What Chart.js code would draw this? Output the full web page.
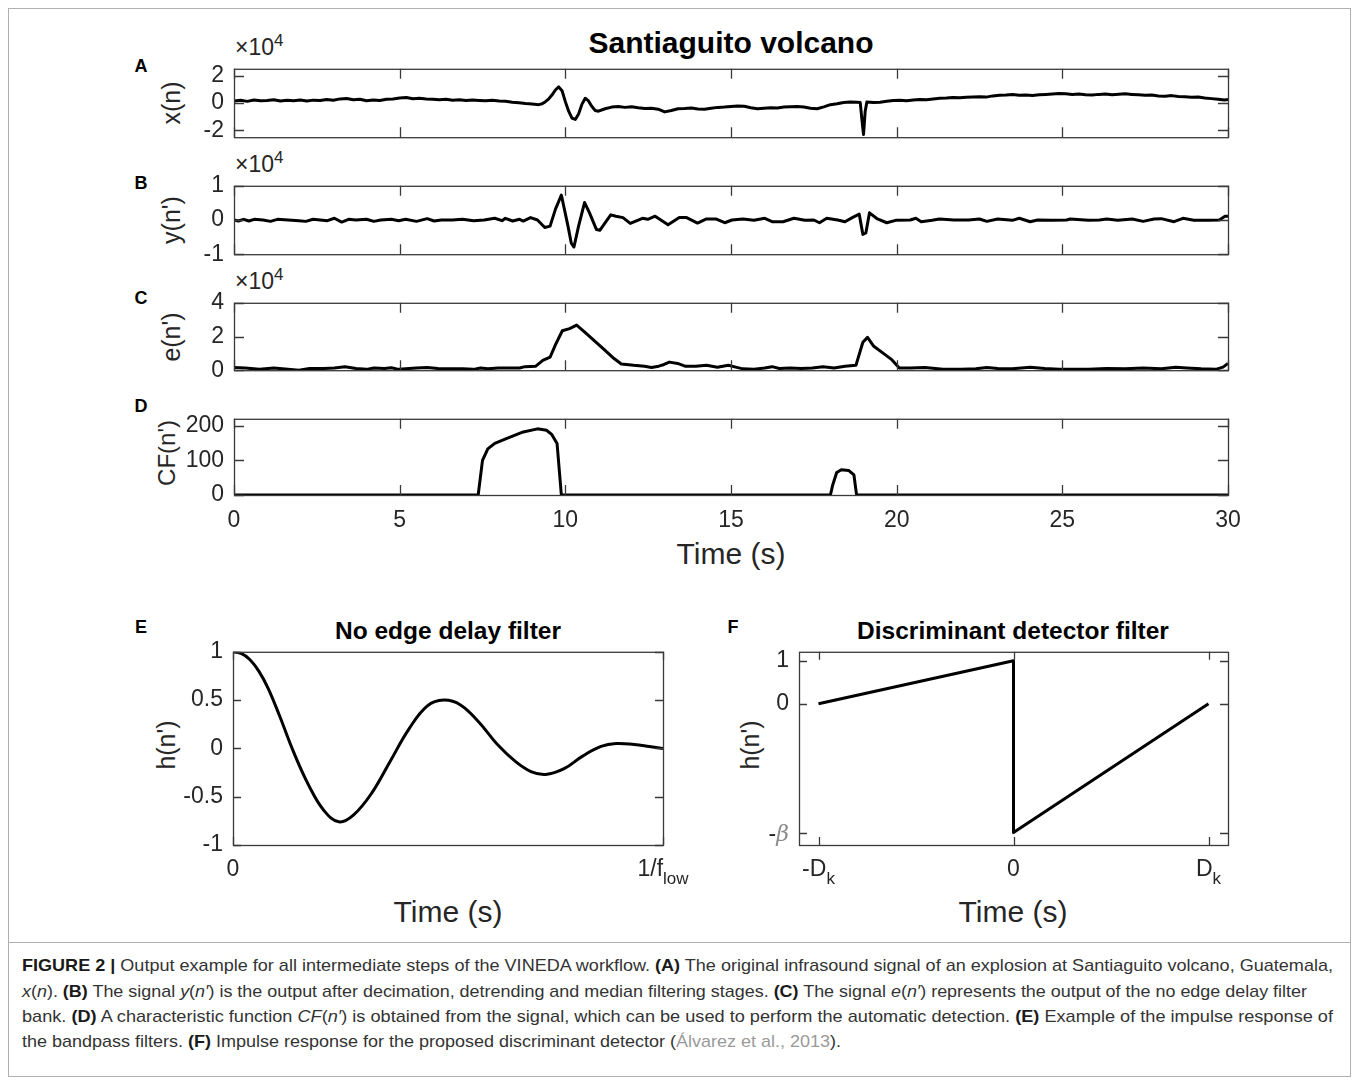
<!DOCTYPE html>
<html>
<head>
<meta charset="utf-8">
<script src="https://cdn.jsdelivr.net/npm/chart.js@4.4.1/dist/chart.umd.min.js"></script>
<style>
html,body{margin:0;padding:0;background:#fff;}
body{position:relative;width:1358px;height:1083px;overflow:hidden;font-family:"Liberation Sans",Arial,Helvetica,sans-serif;color:#262626;}
canvas{position:absolute;}
.t{position:absolute;white-space:nowrap;transform:translate(-50%,-50%);line-height:1;}
.bold{font-weight:bold;color:#000;}
.yl{position:absolute;white-space:nowrap;transform:translate(-50%,-50%) rotate(-90deg);font-size:25px;color:#262626;line-height:1;}
.sc{position:absolute;white-space:nowrap;font-size:23px;color:#262626;line-height:1;transform:translateY(-50%);}
.sc sup{font-size:17px;position:relative;top:-4px;vertical-align:top;}
.cap{position:absolute;left:22px;white-space:nowrap;font-family:"Liberation Sans Narrow","Liberation Sans",Arial,sans-serif;font-size:17px;line-height:20px;color:#333;transform-origin:0 50%;}
.cap b{color:#1a1a1a;}
</style>
</head>
<body>
<div style="position:absolute;left:8px;top:8px;width:1341px;height:1067px;border:1px solid #b0b0b0;"></div>
<div style="position:absolute;left:8px;top:942px;width:1342px;height:1px;background:#b0b0b0;"></div>

<div class="t bold" style="left:731px;top:43px;font-size:30px;">Santiaguito volcano</div>
<div class="t bold" style="left:448px;top:631px;font-size:24.5px;">No edge delay filter</div>
<div class="t bold" style="left:1013px;top:631px;font-size:24.5px;">Discriminant detector filter</div>

<div class="t bold" style="left:141px;top:66px;font-size:18px;">A</div>
<div class="t bold" style="left:141px;top:183px;font-size:18px;">B</div>
<div class="t bold" style="left:141px;top:298px;font-size:18px;">C</div>
<div class="t bold" style="left:141px;top:406px;font-size:18px;">D</div>
<div class="t bold" style="left:141px;top:627px;font-size:18px;">E</div>
<div class="t bold" style="left:733px;top:627px;font-size:18px;">F</div>

<div class="sc" style="left:235px;top:47px;">×10<sup>4</sup></div>
<div class="sc" style="left:235px;top:164px;">×10<sup>4</sup></div>
<div class="sc" style="left:235px;top:281px;">×10<sup>4</sup></div>

<div class="yl" style="left:171px;top:103px;">x(n)</div>
<div class="yl" style="left:171px;top:220px;">y(n')</div>
<div class="yl" style="left:171px;top:337px;">e(n')</div>
<div class="yl" style="left:167px;top:453px;font-size:24px;">CF(n')</div>
<div class="yl" style="left:166px;top:745px;">h(n')</div>
<div class="yl" style="left:750px;top:745px;">h(n')</div>

<div class="t" style="left:731px;top:554px;font-size:30px;">Time (s)</div>
<div class="t" style="left:448px;top:912px;font-size:30px;">Time (s)</div>
<div class="t" style="left:1013px;top:912px;font-size:30px;">Time (s)</div>

<div class="cap" data-w="1311" style="top:956px;"><b>FIGURE 2 |</b> Output example for all intermediate steps of the VINEDA workflow. <b>(A)</b> The original infrasound signal of an explosion at Santiaguito volcano, Guatemala,</div>
<div class="cap" data-w="1285" style="top:982px;"><i>x</i>(<i>n</i>). <b>(B)</b> The signal <i>y</i>(<i>n′</i>) is the output after decimation, detrending and median filtering stages. <b>(C)</b> The signal <i>e</i>(<i>n′</i>) represents the output of the no edge delay filter</div>
<div class="cap" data-w="1311" style="top:1007px;">bank. <b>(D)</b> A characteristic function <i>CF</i>(<i>n′</i>) is obtained from the signal, which can be used to perform the automatic detection. <b>(E)</b> Example of the impulse response of</div>
<div class="cap" data-w="819" style="top:1032px;">the bandpass filters. <b>(F)</b> Impulse response for the proposed discriminant detector (<span style="color:#9a9a9a">Álvarez et al., 2013</span>).</div>

<script>
// ---------------- DATA ----------------
// Time axis ticks (s) for panels A-D
const timeTicks = [0, 5, 10, 15, 20, 25, 30];

// Panel A: x(n), units of 1e4
const tA = [0,0.2,0.4,0.6,0.8,1.0,1.2,1.4,1.6,1.8,
  2.0,2.2,2.4,2.6,2.8,3.0,3.2,3.4,3.6,3.8,
  4.0,4.2,4.4,4.6,4.8,5.0,5.2,5.4,5.6,5.8,
  6.0,6.2,6.4,6.6,6.8,7.0,7.2,7.4,7.6,7.8,
  8.0,8.2,8.4,8.6,8.8,9.0,9.2,9.3,9.4,9.5,
  9.6,9.7,9.8,9.9,10.0,10.1,10.2,10.3,10.4,10.5,
  10.6,10.7,10.8,10.9,11.0,11.2,11.4,11.6,11.8,12.0,
  12.2,12.4,12.6,12.8,13.0,13.2,13.4,13.6,13.8,14.0,
  14.2,14.4,14.6,14.8,15.0,15.2,15.4,15.6,15.8,16.0,
  16.2,16.4,16.6,16.8,17.0,17.2,17.4,17.6,17.8,18.0,
  18.2,18.4,18.6,18.8,18.9,18.95,19.0,19.05,19.1,19.3,
  19.5,19.7,19.9,20.1,20.3,20.5,20.7,20.9,21.1,21.3,
  21.5,21.7,21.9,22.1,22.3,22.5,22.7,22.9,23.1,23.3,
  23.5,23.7,23.9,24.1,24.3,24.5,24.7,24.9,25.1,25.3,
  25.5,25.7,25.9,26.1,26.3,26.5,26.7,26.9,27.1,27.3,
  27.5,27.7,27.9,28.1,28.3,28.5,28.7,28.9,29.1,29.3,
  29.5,29.7,29.9,30.0];
const xA = [0.14,0.20,0.12,0.22,0.16,0.18,0.24,0.14,0.20,0.17,
  0.22,0.15,0.21,0.19,0.26,0.20,0.30,0.33,0.24,0.28,
  0.16,0.22,0.18,0.27,0.30,0.36,0.40,0.31,0.34,0.30,
  0.28,0.24,0.27,0.20,0.23,0.18,0.22,0.19,0.16,0.20,
  0.14,0.12,0.06,0.02,-0.04,-0.08,-0.12,-0.06,0.10,0.30,
  0.60,0.95,1.18,0.90,0.10,-0.60,-1.10,-1.20,-0.80,-0.10,
  0.35,0.15,-0.25,-0.55,-0.60,-0.42,-0.30,-0.26,-0.32,-0.28,
  -0.35,-0.40,-0.38,-0.45,-0.65,-0.55,-0.42,-0.40,-0.36,-0.44,
  -0.46,-0.38,-0.32,-0.30,-0.26,-0.22,-0.24,-0.35,-0.42,-0.38,
  -0.34,-0.36,-0.30,-0.27,-0.25,-0.30,-0.38,-0.42,-0.28,-0.12,
  -0.06,0.04,0.08,0.06,0.04,-1.2,-2.3,-0.6,0.08,0.04,
  0.06,0.12,0.18,0.20,0.16,0.22,0.26,0.24,0.30,0.34,
  0.36,0.40,0.38,0.42,0.44,0.46,0.43,0.52,0.56,0.58,
  0.62,0.56,0.58,0.55,0.60,0.63,0.66,0.70,0.67,0.62,
  0.65,0.60,0.58,0.63,0.66,0.61,0.64,0.67,0.63,0.60,
  0.56,0.58,0.52,0.50,0.54,0.47,0.45,0.42,0.44,0.36,
  0.32,0.28,0.22,0.25];
const yTicksA = [-2, 0, 2];

// Panel B: y(n'), units of 1e4
const tB = [0,0.13,0.29,0.45,0.61,0.88,1.10,1.31,1.63,1.96,
  2.17,2.39,2.60,2.82,3.03,3.25,3.46,3.68,4.00,4.22,
  4.43,4.75,4.97,5.18,5.51,5.83,6.04,6.26,6.58,6.90,
  7.23,7.55,7.87,8.09,8.19,8.41,8.62,8.73,8.95,9.16,
  9.38,9.54,9.70,9.88,10.08,10.18,10.26,10.40,10.58,10.72,
  10.94,11.04,11.37,11.53,11.74,11.96,12.33,12.49,12.71,13.10,
  13.44,13.66,13.99,14.26,14.54,14.81,15.03,15.36,15.69,16.02,
  16.24,16.57,16.90,17.23,17.50,17.67,17.89,18.22,18.44,18.66,
  18.87,18.98,19.07,19.18,19.42,19.70,19.97,20.41,20.58,20.74,
  21.07,21.29,21.73,22.17,22.50,22.72,23.05,23.49,23.70,24.03,
  24.25,24.69,25.13,25.24,25.79,26.12,26.34,26.67,27.11,27.44,
  27.77,27.99,28.37,28.64,28.97,29.41,29.74,29.91,30.00];
const yB = [0,-0.03,0.02,-0.03,0.02,0,-0.04,0.02,0,-0.02,
  -0.04,0.02,0,-0.02,0.05,-0.06,0.02,0,0.02,-0.04,
  0,0.02,-0.02,0.02,-0.04,0.04,-0.03,0,0,0.02,
  -0.02,0,0.05,-0.02,0.05,-0.03,0.02,-0.03,0.07,0,
  -0.22,-0.18,0.31,0.73,-0.18,-0.68,-0.79,-0.18,0.51,0.23,
  -0.28,-0.30,0.15,0.11,0.07,-0.10,0.05,0.02,0.11,-0.14,
  0.07,0.07,-0.09,0.03,0.03,-0.08,0,0.03,-0.01,0.05,
  -0.05,-0.05,0.05,-0.01,0,-0.08,0.05,0,-0.05,0.07,
  0.17,-0.42,-0.38,0.21,0.03,-0.08,-0.01,0,0.05,-0.05,
  -0.01,0.03,0,0,0.03,-0.04,0.03,-0.01,0.05,-0.05,
  0,-0.01,0,0.03,-0.01,0,0.03,-0.01,0.03,-0.04,
  0.03,0.04,-0.05,0.05,-0.01,-0.01,0,0.11,0.11];
const yTicksB = [-1, 0, 1];

// Panel C: e(n'), units of 1e4
const tC = [0,0.34,0.77,1.20,1.63,1.96,2.28,2.71,3.03,3.35,
  3.68,4.0,4.22,4.54,4.75,4.97,5.18,5.51,5.83,6.15,
  6.47,6.90,7.23,7.44,7.66,7.98,8.30,8.62,8.78,9.11,
  9.32,9.54,9.70,9.91,10.13,10.34,10.56,10.88,11.20,11.47,
  11.69,12.06,12.39,12.60,12.82,12.98,13.14,13.39,13.61,13.94,
  14.26,14.59,14.92,15.14,15.36,15.69,16.02,16.24,16.46,16.79,
  17.12,17.45,17.78,18.11,18.44,18.77,18.98,19.12,19.31,19.64,
  19.86,20.08,20.41,20.85,21.40,21.95,22.39,22.72,23.05,23.49,
  24.03,24.47,24.91,25.24,25.79,26.34,26.89,27.44,27.99,28.42,
  28.75,29.19,29.63,29.85,30.0];
const eC = [0.16,0.13,0.05,0.13,0.05,0,0.10,0.10,0.13,0.21,
  0.10,0.05,0.13,0.10,0.15,0.05,0.08,0.13,0.16,0.10,
  0.08,0.08,0.05,0.13,0.08,0.13,0.13,0.13,0.21,0.24,
  0.58,0.77,1.50,2.34,2.47,2.68,2.31,1.74,1.18,0.69,
  0.37,0.29,0.24,0.16,0.24,0.34,0.48,0.40,0.24,0.24,
  0.29,0.18,0.29,0.18,0.08,0.05,0.13,0.21,0.10,0.13,
  0.10,0.13,0.21,0.13,0.24,0.29,1.66,1.95,1.42,0.94,
  0.61,0.13,0.13,0.16,0.05,0.05,0.08,0.16,0.10,0.08,
  0.18,0.10,0.05,0.05,0.05,0.10,0.08,0.13,0.08,0.18,
  0.13,0.08,0.05,0.18,0.40];
const yTicksC = [0, 2, 4];

// Panel D: characteristic function CF(n')
const tD  = [0, 7.37, 7.5, 7.66, 7.87, 8.2, 8.73, 9.16, 9.43, 9.59, 9.75, 9.88, 18.0, 18.07, 18.19, 18.33, 18.55, 18.71, 18.79, 30];
const cfD = [0, 0, 100, 133, 149, 162, 182, 191, 187, 175, 149, 0, 0, 29, 65, 73, 71, 58, 0, 0];
const yTicksD = [0, 100, 200];

// Panel E: no edge delay filter impulse response (time in units of 1/f_low)
const tE = [0,0.02,0.039,0.06,0.082,0.108,0.143,0.177,0.211,0.246,
  0.280,0.323,0.366,0.409,0.452,0.490,0.529,0.572,0.615,0.658,
  0.693,0.727,0.770,0.813,0.856,0.891,0.933,0.968,1.0];
const hE = [1.0,0.98,0.92,0.80,0.62,0.34,-0.06,-0.39,-0.64,-0.76,
  -0.69,-0.46,-0.13,0.20,0.44,0.50,0.45,0.27,0.04,-0.14,
  -0.24,-0.27,-0.21,-0.08,0.02,0.05,0.04,0.02,0.0];
const yTicksE = [-1, -0.5, 0, 0.5, 1];
const yLabelsE = ['-1', '-0.5', '0', '0.5', '1'];

// Panel F: discriminant detector (time in units of D_k)
const BETA = 3;
const tF = [-1, 0, 0, 1];
const hF = [0, 1, -BETA, 0];
const xTicksF = [-1, 0, 1];
const yTicksF = [-BETA, 0, 1];

// ---------------- STYLE / PLUGINS ----------------
const FONT = '"Liberation Sans", Arial, Helvetica, sans-serif';
const TICK_SIZE = 23;
const AX_COLOR = '#3a3a3a';
const TXT_COLOR = '#262626';

const boxTicks = {
  id: 'boxTicks',
  afterDatasetsDraw(chart, args, opts) {
    const {ctx, chartArea: a, scales} = chart;
    const L = opts.len || 9;
    ctx.save();
    ctx.strokeStyle = AX_COLOR;
    ctx.lineWidth = 1.3;
    ctx.strokeRect(a.left + 0.5, a.top + 0.5, a.right - a.left, a.bottom - a.top);
    ctx.beginPath();
    (opts.xTicks || []).forEach(v => {
      const p = Math.round(scales.x.getPixelForValue(v)) + 0.5;
      ctx.moveTo(p, a.bottom); ctx.lineTo(p, a.bottom - L);
      ctx.moveTo(p, a.top); ctx.lineTo(p, a.top + L);
    });
    (opts.yTicks || []).forEach(v => {
      const p = Math.round(scales.y.getPixelForValue(v)) + 0.5;
      ctx.moveTo(a.left, p); ctx.lineTo(a.left + L, p);
      ctx.moveTo(a.right, p); ctx.lineTo(a.right - L, p);
    });
    ctx.stroke();
    ctx.restore();
  }
};

const customLabels = {
  id: 'customLabels',
  afterDraw(chart, args, opts) {
    const items = opts.items || [];
    if (!items.length) return;
    const {ctx, chartArea: a} = chart;
    ctx.save();
    ctx.textBaseline = 'alphabetic';
    items.forEach(it => {
      const sc = chart.scales[it.axis];
      const p = sc.getPixelForValue(it.value);
      let w = 0;
      it.parts.forEach(pt => {
        ctx.font = pt.font || (TICK_SIZE + 'px ' + FONT);
        pt._w = ctx.measureText(pt.t).width;
        w += pt._w;
      });
      let x, y;
      if (it.axis === 'x') { x = p - w / 2; y = a.bottom + it.off; }
      else { x = a.left - it.off - w; y = p + 8; }
      it.parts.forEach(pt => {
        ctx.font = pt.font || (TICK_SIZE + 'px ' + FONT);
        ctx.fillStyle = pt.color || TXT_COLOR;
        ctx.fillText(pt.t, x, y + (pt.dy || 0));
        x += pt._w;
      });
    });
    ctx.restore();
  }
};

function makePanel(cfg) {
  const yW = cfg.yW || 110, padT = 16, padR = 26, padB = cfg.padB || 16, xH = cfg.xH || 0;
  const w = (cfg.right - cfg.left) + yW + padR;
  const h = (cfg.bottom - cfg.top) + padT + xH + padB;
  const cv = document.createElement('canvas');
  cv.width = w; cv.height = h;
  cv.style.left = (cfg.left - yW) + 'px';
  cv.style.top = (cfg.top - padT) + 'px';
  cv.style.width = w + 'px'; cv.style.height = h + 'px';
  document.body.appendChild(cv);
  const tickFont = {family: FONT, size: TICK_SIZE};
  new Chart(cv, {
    type: 'line',
    data: {datasets: [{
      data: cfg.t.map((t, i) => ({x: t, y: cfg.v[i]})),
      borderColor: '#000', borderWidth: cfg.lw || 3, pointRadius: 0,
      tension: cfg.tension || 0,
      borderJoinStyle: 'round', fill: false
    }]},
    options: {
      responsive: false, animation: false, devicePixelRatio: 1,
      layout: {padding: {top: padT, right: padR, bottom: padB, left: 0}},
      plugins: {
        legend: {display: false}, tooltip: {enabled: false},
        boxTicks: {len: cfg.tickLen || 10, xTicks: cfg.xTicks, yTicks: cfg.yTicks},
        customLabels: {items: cfg.custom || []}
      },
      scales: {
        x: {
          type: 'linear', min: cfg.xMin, max: cfg.xMax,
          grid: {display: false, drawTicks: false}, border: {display: false},
          afterBuildTicks: s => { s.ticks = cfg.xTicks.map(v => ({value: v})); },
          afterFit: s => { s.height = xH; },
          ticks: {display: !!cfg.xShow, padding: cfg.xPad || 12, font: tickFont, color: TXT_COLOR,
                  autoSkip: false, maxRotation: 0, minRotation: 0,
                  callback: (v, i) => String(cfg.xTicks[i])}
        },
        y: {
          type: 'linear', min: cfg.yMin, max: cfg.yMax,
          grid: {display: false, drawTicks: false}, border: {display: false},
          afterBuildTicks: s => { s.ticks = cfg.yTicks.map(v => ({value: v})); },
          afterFit: s => { s.width = yW; },
          ticks: {display: true, padding: 10, font: tickFont, color: TXT_COLOR, autoSkip: false,
                  callback: (v, i) => cfg.yLabels ? cfg.yLabels[i] : String(cfg.yTicks[i])}
        }
      }
    },
    plugins: [boxTicks, customLabels]
  });
}

const L0 = 234, R0 = 1228;
makePanel({left: L0, right: R0, top: 61, bottom: 145, t: tA, v: xA, xMin: 0, xMax: 30, yMin: -2.5, yMax: 2.5,
  xTicks: timeTicks, yTicks: yTicksA, lw: 3});
makePanel({left: L0, right: R0, top: 178, bottom: 262, t: tB, v: yB, xMin: 0, xMax: 30, yMin: -1, yMax: 1,
  xTicks: timeTicks, yTicks: yTicksB, lw: 3});
makePanel({left: L0, right: R0, top: 295, bottom: 378, t: tC, v: eC, xMin: 0, xMax: 30, yMin: 0, yMax: 4,
  xTicks: timeTicks, yTicks: yTicksC, lw: 3});
makePanel({left: L0, right: R0, top: 411, bottom: 495, t: tD, v: cfD, xMin: 0, xMax: 30, yMin: 0, yMax: 220,
  xTicks: timeTicks, yTicks: yTicksD, lw: 3, xShow: true, xH: 40, xPad: 12});
makePanel({left: 233, right: 663, top: 644, bottom: 845, t: tE, v: hE, xMin: 0, xMax: 1, yMin: -1, yMax: 1,
  xTicks: [0, 1], yTicks: yTicksE, yLabels: yLabelsE, lw: 3, tension: 0.4, padB: 50, tickLen: 8,
  custom: [
    {axis: 'x', value: 0, off: 31, parts: [{t: '0'}]},
    {axis: 'x', value: 1, off: 31, parts: [{t: '1/f'}, {t: 'low', font: '17px ' + FONT, dy: 8}]}
  ]});
makePanel({left: 799, right: 1228, top: 644, bottom: 845, t: tF, v: hF, xMin: -1.1, xMax: 1.1, yMin: -3.29, yMax: 1.21,
  xTicks: xTicksF, yTicks: yTicksF, yLabels: ['', '0', '1'], lw: 3, padB: 50, tickLen: 8,
  custom: [
    {axis: 'x', value: -1, off: 31, parts: [{t: '-D'}, {t: 'k', font: '17px ' + FONT, dy: 8}]},
    {axis: 'x', value: 0, off: 31, parts: [{t: '0'}]},
    {axis: 'x', value: 1, off: 31, parts: [{t: 'D'}, {t: 'k', font: '17px ' + FONT, dy: 8}]},
    {axis: 'y', value: -BETA, off: 10, parts: [{t: '-'}, {t: 'β', font: 'italic 22px "DejaVu Serif", serif', color: '#8a8a8a'}]}
  ]});

// fit caption lines to their measured widths
document.querySelectorAll('.cap').forEach(el => {
  const target = +el.dataset.w;
  const w = el.getBoundingClientRect().width;
  if (w > 0) el.style.transform = 'scaleX(' + (target / w) + ')';
});
</script>
</body>
</html>
